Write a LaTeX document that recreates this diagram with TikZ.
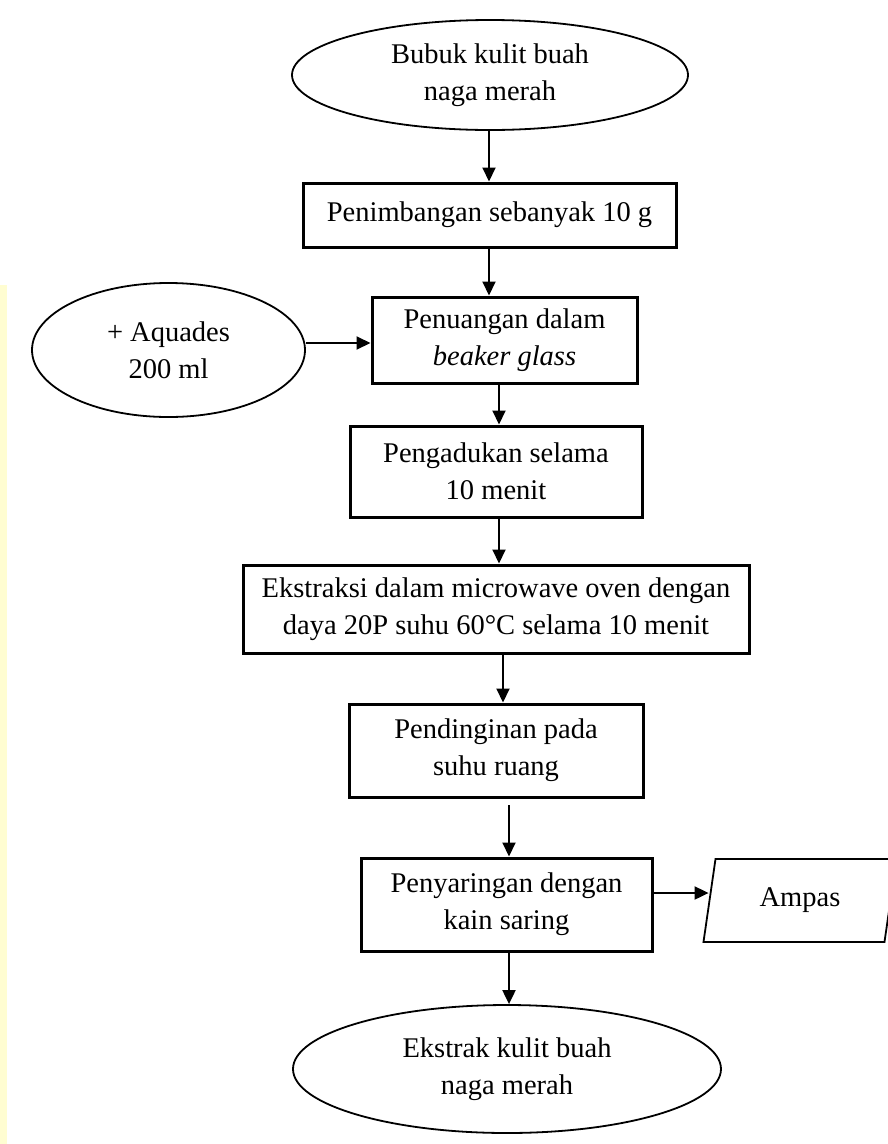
\documentclass[tikz,border=0pt]{standalone}
\usepackage{fontspec}
\setmainfont{Liberation Serif}
\usetikzlibrary{arrows.meta,shapes.geometric}

\tikzset{
  base/.style={align=center, inner sep=0pt, text=black,
    font=\fontsize{28.5}{37}\selectfont},
  stepbox/.style={base, draw, line width=3pt, rectangle},
  terminal/.style={base, draw, line width=1.8pt, ellipse},
  outbox/.style={base, draw, line width=1.8pt, trapezium, trapezium stretches=true,
    trapezium left angle=77, trapezium right angle=103},
  flow/.style={line width=2pt, -{Triangle[length=14pt,width=13pt]}},
}

\begin{document}
\begin{tikzpicture}[x=1pt, y=-1pt]
  \useasboundingbox (0,0) rectangle (888,1144);
  \clip (0,0) rectangle (888,1144);
  \fill[white] (0,0) rectangle (888,1144);
  % pale margin strip at the left edge
  \fill[yellow!18] (0,285) rectangle (7,1144);

  % process chain
  \node[terminal, minimum width=396pt, minimum height=110pt] (start) at (490,75)
    {Bubuk kulit buah\\naga merah};
  \node[stepbox, minimum width=373pt, minimum height=64pt] (weigh) at (489.5,215)
    {Penimbangan sebanyak 10 g};
  \node[stepbox, minimum width=265pt, minimum height=86pt] (pour) at (504.5,340)
    {Penuangan dalam\\\textit{beaker glass}};
  \node[terminal, minimum width=273pt, minimum height=134pt] (water) at (168.5,350)
    {+ Aquades\\200 ml};
  \node[stepbox, minimum width=292pt, minimum height=91pt] (stir) at (496,471.5)
    {Pengadukan selama\\10 menit};
  \node[stepbox, minimum width=506pt, minimum height=88pt] (extract) at (496,609)
    {Ekstraksi dalam microwave oven dengan\\daya 20P suhu 60\textdegree C selama 10 menit};
  \node[stepbox, minimum width=294pt, minimum height=93pt] (cool) at (496,750.5)
    {Pendinginan pada\\suhu ruang};
  \node[stepbox, minimum width=291pt, minimum height=93pt] (filter) at (506.5,904.5)
    {Penyaringan dengan\\kain saring};
  \node[outbox, minimum width=194pt, minimum height=83pt] (waste) at (800,900.5)
    {Ampas};
  \node[terminal, minimum width=428pt, minimum height=128pt] (product) at (507,1069)
    {Ekstrak kulit buah\\naga merah};

  % x positions of the vertical connectors, y of the side connectors
  \coordinate (xa) at (489,0);
  \coordinate (xb) at (499,0);
  \coordinate (xc) at (503,0);
  \coordinate (xd) at (509,0);
  \coordinate (ywater) at (0,343);
  \coordinate (ywaste) at (0,893);
  \coordinate (ycool) at (0,805);

  % connectors
  \draw[flow] (start.south -| xa) -- (weigh.north -| xa);
  \draw[flow] (weigh.south -| xa) -- (pour.north -| xa);
  \draw[flow] (water.east |- ywater) -- (pour.west |- ywater);
  \draw[flow] (pour.south -| xb) -- (stir.north -| xb);
  \draw[flow] (stir.south -| xb) -- (extract.north -| xb);
  \draw[flow] (extract.south -| xc) -- (cool.north -| xc);
  \draw[flow] (ycool -| xd) -- (filter.north -| xd);
  \draw[flow] (filter.east |- ywaste) -- (waste.west |- ywaste);
  \draw[flow] (filter.south -| xd) -- (product.north -| xd);
\end{tikzpicture}
\end{document}
